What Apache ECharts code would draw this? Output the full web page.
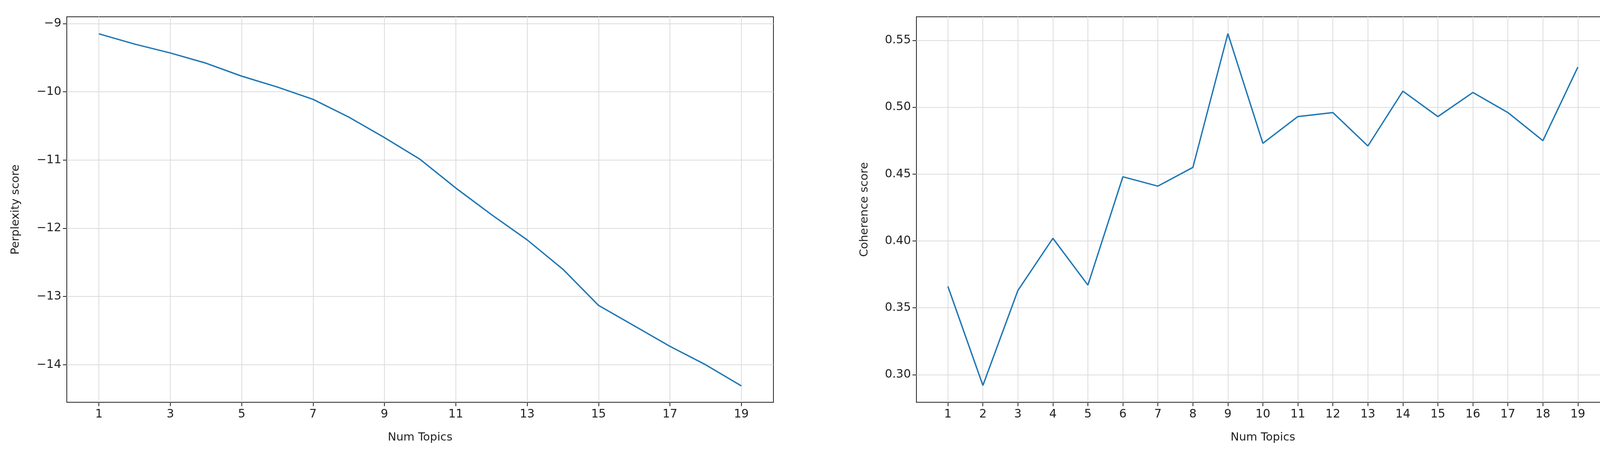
<!DOCTYPE html>
<html>
<head>
<meta charset="utf-8">
<script src="https://cdn.jsdelivr.net/npm/echarts@6/dist/echarts.min.js"></script>
<style>html,body{margin:0;padding:0;background:#fff}#main{width:4194px;height:1165px}</style>
</head>
<body>
<div id="main"></div>
<script>
// num topics
let topics = [1,2,3,4,5,6,7,8,9,10,11,12,13,14,15,16,17,18,19];
let perplexity = [-9.15,-9.3,-9.43,-9.58,-9.77,-9.93,-10.11,-10.37,-10.67,-10.99,-11.41,-11.8,-12.17,-12.6,-13.13,-13.43,-13.73,-14.0,-14.31];
let coherence = [0.366,0.292,0.363,0.402,0.367,0.448,0.441,0.455,0.555,0.473,0.493,0.496,0.471,0.512,0.493,0.511,0.496,0.475,0.530];
let leftXTicks = [1,3,5,7,9,11,13,15,17,19];
let leftYTicks = [-9,-10,-11,-12,-13,-14];
let rightYTicks = [0.30,0.35,0.40,0.45,0.50,0.55];

let font = 'DejaVu Sans';
let lineColor = '#1f77b4';

function xAxisOf(idx, ticks) {
    return {
        type: 'value', gridIndex: idx, min: 0.1, max: 19.9,
        name: 'Num Topics', nameLocation: 'middle', nameGap: 76,
        nameTextStyle: {fontFamily: font, fontSize: 29, color: '#222'},
        axisLine: {show: false},
        axisTick: {show: true, length: 10, customValues: ticks, lineStyle: {color: '#222', width: 2}},
        axisLabel: {customValues: ticks, fontFamily: font, fontSize: 30, color: '#222', margin: 16},
        splitLine: {show: true, lineStyle: {color: '#dcdcdc', width: 2}}
    };
}

function yAxisOf(idx, min, max, ticks, name, gap, fmt) {
    return {
        type: 'value', gridIndex: idx, min: min, max: max,
        name: name, nameLocation: 'middle', nameGap: gap,
        nameTextStyle: {fontFamily: font, fontSize: 29, color: '#222'},
        axisLine: {show: false},
        axisTick: {show: true, length: 10, customValues: ticks, lineStyle: {color: '#222', width: 2}},
        axisLabel: {customValues: ticks, fontFamily: font, fontSize: 30, color: '#222', margin: 14,
            formatter: fmt},
        splitLine: {show: true, lineStyle: {color: '#dcdcdc', width: 2}}
    };
}

let myChart = echarts.init(document.getElementById('main'));
let option = {
    animation: false,
    grid: [
        {left: 171, right: 2214, top: 43, bottom: 135, show: true, borderColor: '#222', borderWidth: 2},
        {left: 2346, right: 74, top: 43, bottom: 135, show: true, borderColor: '#222', borderWidth: 2}
    ],
    xAxis: [xAxisOf(0, leftXTicks), xAxisOf(1, topics)],
    yAxis: [
        yAxisOf(0, -14.55, -8.9, leftYTicks, 'Perplexity score', 116, v => String(v).replace('-', '\u2212')),
        yAxisOf(1, 0.2794, 0.5676, rightYTicks, 'Coherence score', 118, v => v.toFixed(2))
    ],
    series: [
        {type: 'line', xAxisIndex: 0, yAxisIndex: 0, showSymbol: false,
            data: topics.map((t, i) => [t, perplexity[i]]), lineStyle: {color: lineColor, width: 3.5}},
        {type: 'line', xAxisIndex: 1, yAxisIndex: 1, showSymbol: false,
            data: topics.map((t, i) => [t, coherence[i]]), lineStyle: {color: lineColor, width: 3.5}}
    ]
};
myChart.setOption(option);
</script>
</body>
</html>
